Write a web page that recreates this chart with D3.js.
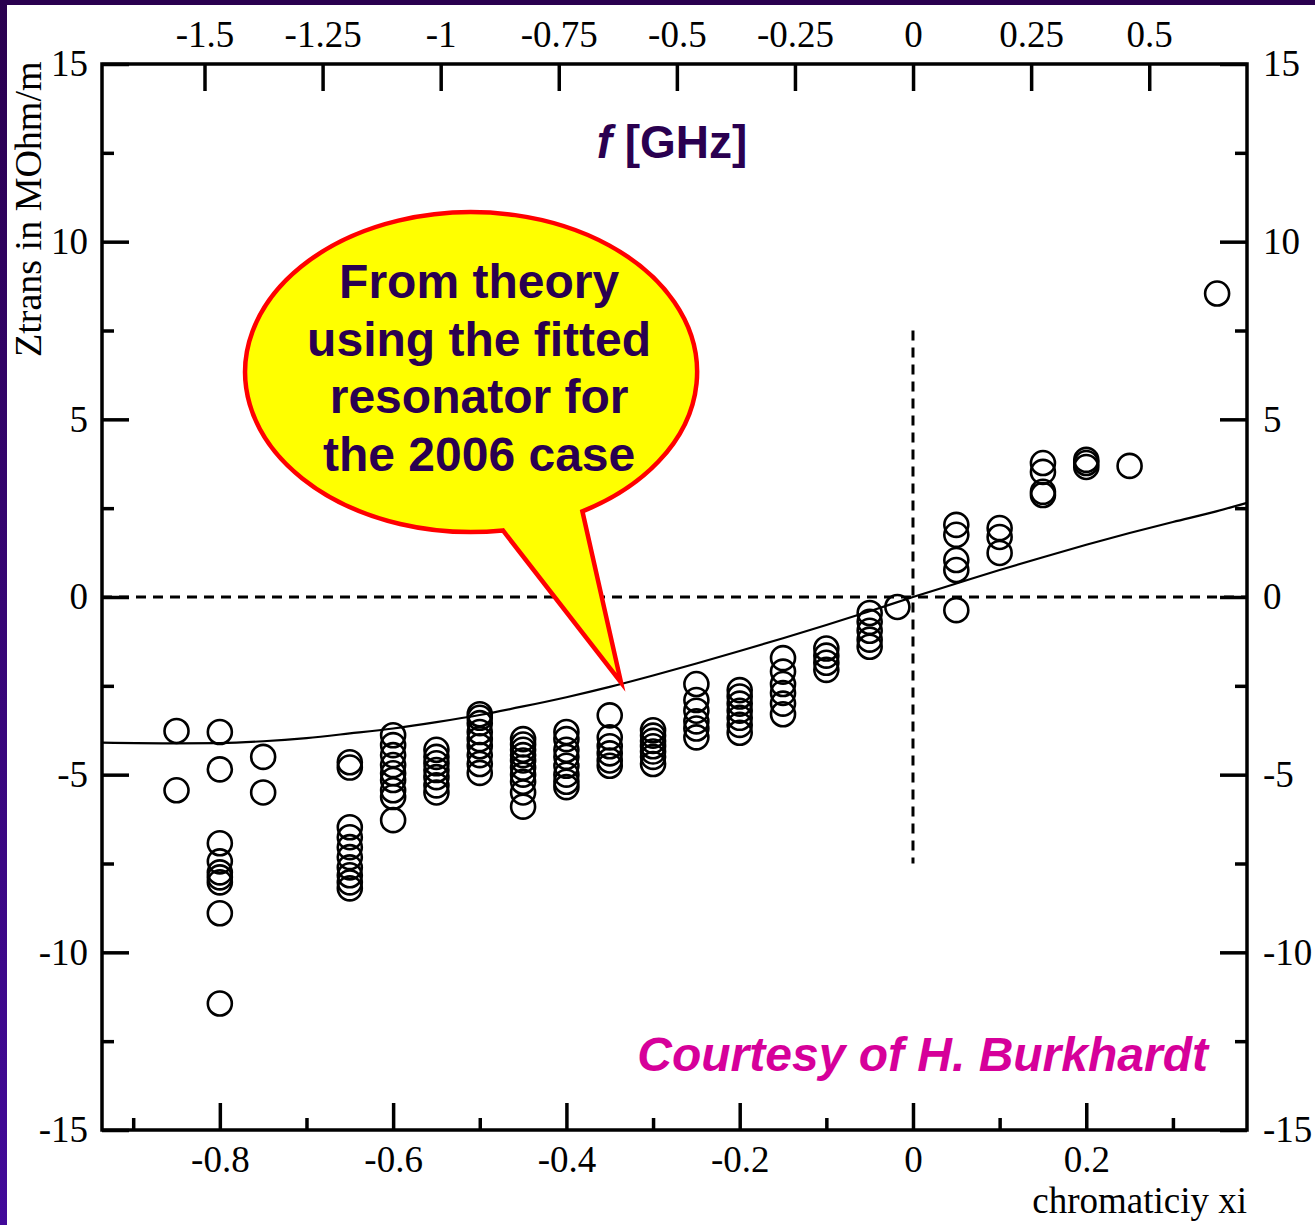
<!DOCTYPE html>
<html>
<head>
<meta charset="utf-8">
<script src="https://cdn.jsdelivr.net/npm/d3@7"></script>
<style>
body{margin:0;background:#fff;}
svg{display:block;}
.tick text{font-family:"Liberation Serif","Times New Roman",serif;font-size:37px;fill:#000;}
</style>
</head>
<body>
<script>
// measured points, grouped by chromaticity column
var columnXi = [-0.85, -0.8, -0.75, -0.65, -0.6, -0.55, -0.5, -0.45, -0.4, -0.35, -0.3,
  -0.25, -0.2, -0.15, -0.1, -0.05, -0.018, 0.05, 0.1, 0.15, 0.2, 0.25, 0.351];
var columnZ = [
  [-3.77, -5.44],
  [-3.8, -4.85, -6.93, -7.44, -7.75, -7.89, -8.03, -8.9, -11.44],
  [-4.5, -5.5],
  [-4.65, -4.8, -6.48, -6.76, -7.04, -7.32, -7.61, -7.83, -8.03, -8.2],
  [-3.89, -4.17, -4.45, -4.73, -4.96, -5.15, -5.44, -5.63, -6.28],
  [-4.3, -4.5, -4.68, -4.87, -5.07, -5.3, -5.5],
  [-3.3, -3.4, -3.55, -3.8, -4.0, -4.2, -4.45, -4.7, -4.95],
  [-4.0, -4.15, -4.3, -4.45, -4.6, -4.8, -5.0, -5.2, -5.5, -5.9],
  [-3.8, -4.0, -4.3, -4.5, -4.75, -5.0, -5.2, -5.35],
  [-3.33, -3.95, -4.2, -4.4, -4.6, -4.75],
  [-3.75, -3.9, -4.05, -4.2, -4.35, -4.5, -4.7],
  [-2.45, -2.9, -3.2, -3.5, -3.7, -3.95],
  [-2.62, -2.8, -3.0, -3.2, -3.4, -3.6, -3.82],
  [-1.72, -2.1, -2.45, -2.7, -3.0, -3.3],
  [-1.45, -1.65, -1.85, -2.05],
  [-0.45, -0.7, -0.95, -1.2, -1.4],
  [-0.28],
  [2.03, 1.75, 1.04, 0.76, -0.37],
  [1.94, 1.69, 1.24],
  [3.77, 3.52, 2.96, 2.87],
  [3.86, 3.77, 3.66],
  [3.69],
  [8.54]
];

// theory curve
var curveXi = [-0.936, -0.85, -0.8, -0.75, -0.7, -0.65, -0.6, -0.55, -0.5, -0.45, -0.4, -0.35,
  -0.3, -0.25, -0.2, -0.15, -0.1, -0.05, 0, 0.05, 0.1, 0.15, 0.2, 0.25, 0.3, 0.35, 0.3855];
var curveZ = [-4.10, -4.12, -4.11, -4.06, -3.97, -3.84, -3.70, -3.52, -3.32, -3.08, -2.82, -2.53,
  -2.21, -1.87, -1.52, -1.16, -0.79, -0.40, 0, 0.38, 0.76, 1.12, 1.47, 1.80, 2.11, 2.41, 2.65];

var topTicks = [-1.5, -1.25, -1, -0.75, -0.5, -0.25, 0, 0.25, 0.5];
var bottomMajor = [-0.8, -0.6, -0.4, -0.2, 0, 0.2];
var bottomMinor = [-0.9, -0.7, -0.5, -0.3, -0.1, 0.1, 0.3];
var sideMajor = [-15, -10, -5, 0, 5, 10, 15];
var sideMinor = [-12.5, -7.5, -2.5, 2.5, 7.5, 12.5];
var calloutLines = ["From theory", "using the fitted", "resonator for", "the 2006 case"];

var W = 1315, H = 1225;
var plotL = 102, plotR = 1247, plotT = 64, plotB = 1130;

var svg = d3.select("body").append("svg")
  .attr("width", W)
  .attr("height", H);

// purple slide border
var grad = svg.append("defs").append("linearGradient")
  .attr("id", "edge").attr("x1", 0).attr("y1", 0).attr("x2", 0).attr("y2", 1);
grad.append("stop").attr("offset", "0%").attr("stop-color", "#2a004f");
grad.append("stop").attr("offset", "100%").attr("stop-color", "#420a9a");
svg.append("rect").attr("x", 0).attr("y", 0).attr("width", W).attr("height", 5).attr("fill", "#2a004f");
svg.append("rect").attr("x", 0).attr("y", 0).attr("width", 7).attr("height", H).attr("fill", "url(#edge)");

var x = d3.scaleLinear().domain([-0.936, 0.3855]).range([plotL, plotR]);
var xf = d3.scaleLinear().domain([-1.717, 0.707]).range([plotL, plotR]);
var y = d3.scaleLinear().domain([-15, 15]).range([plotB, plotT]);

var fmt = function(d){ return String(d); };

function styleAxis(g){
  g.select(".domain").remove();
  g.selectAll(".tick line").attr("stroke", "#000").attr("stroke-width", 3.5);
}

// bottom axis
svg.append("g").attr("transform", "translate(0," + plotB + ")")
  .call(d3.axisBottom(x).tickValues(bottomMajor).tickSize(-27).tickPadding(16).tickFormat(fmt))
  .call(styleAxis);
svg.append("g").attr("transform", "translate(0," + plotB + ")")
  .call(d3.axisBottom(x).tickValues(bottomMinor).tickSize(-12).tickFormat(""))
  .call(styleAxis);

// top axis (frequency)
svg.append("g").attr("transform", "translate(0," + plotT + ")")
  .call(d3.axisTop(xf).tickValues(topTicks).tickSize(-27).tickPadding(17).tickFormat(fmt))
  .call(styleAxis);

// left and right
svg.append("g").attr("transform", "translate(" + plotL + ",0)")
  .call(d3.axisLeft(y).tickValues(sideMajor).tickSize(-27).tickPadding(14).tickFormat(fmt))
  .call(styleAxis);
svg.append("g").attr("transform", "translate(" + plotL + ",0)")
  .call(d3.axisLeft(y).tickValues(sideMinor).tickSize(-12).tickFormat(""))
  .call(styleAxis);
svg.append("g").attr("transform", "translate(" + plotR + ",0)")
  .call(d3.axisRight(y).tickValues(sideMajor).tickSize(-27).tickPadding(16).tickFormat(fmt))
  .call(styleAxis);
svg.append("g").attr("transform", "translate(" + plotR + ",0)")
  .call(d3.axisRight(y).tickValues(sideMinor).tickSize(-12).tickFormat(""))
  .call(styleAxis);

// frame
svg.append("rect")
  .attr("x", plotL).attr("y", plotT)
  .attr("width", plotR - plotL).attr("height", plotB - plotT)
  .attr("fill", "none").attr("stroke", "#000").attr("stroke-width", 3.5);

// axis titles
svg.append("text")
  .attr("x", plotR).attr("y", 1213)
  .attr("text-anchor", "end")
  .style("font-family", "'Liberation Serif','Times New Roman',serif")
  .style("font-size", "37px")
  .text("chromaticiy xi");

svg.append("text")
  .attr("transform", "translate(41,357) rotate(-90)")
  .style("font-family", "'Liberation Serif','Times New Roman',serif")
  .style("font-size", "38px")
  .text("Ztrans in MOhm/m");

var ft = svg.append("text")
  .attr("x", 672).attr("y", 158)
  .attr("text-anchor", "middle")
  .style("font-family", "'Liberation Sans',Arial,sans-serif")
  .style("font-weight", "bold")
  .style("font-size", "46px")
  .attr("fill", "#2a0050");
ft.append("tspan").style("font-style", "italic").text("f");
ft.append("tspan").text(" [GHz]");

// zero lines
svg.append("line")
  .attr("x1", plotL).attr("x2", plotR)
  .attr("y1", y(0)).attr("y2", y(0))
  .attr("stroke", "#000").attr("stroke-width", 3)
  .attr("stroke-dasharray", "10,7");
svg.append("line")
  .attr("x1", x(0)).attr("x2", x(0))
  .attr("y1", y(7.5)).attr("y2", y(-7.5))
  .attr("stroke", "#000").attr("stroke-width", 3)
  .attr("stroke-dasharray", "10,7");

// theory curve
var line = d3.line()
  .x(function(d, i){ return x(curveXi[i]); })
  .y(function(d){ return y(d); })
  .curve(d3.curveMonotoneX);
svg.append("path")
  .datum(curveZ)
  .attr("d", line)
  .attr("fill", "none")
  .attr("stroke", "#000")
  .attr("stroke-width", 2.2);

// measured points
var points = [];
columnXi.forEach(function(xi, i){
  columnZ[i].forEach(function(z){ points.push({xi: xi, z: z}); });
});
svg.selectAll(".pt")
  .data(points)
  .enter()
  .append("circle")
  .attr("class", "pt")
  .attr("cx", function(d){ return x(d.xi); })
  .attr("cy", function(d){ return y(d.z); })
  .attr("r", 12)
  .attr("fill", "none")
  .attr("stroke", "#000")
  .attr("stroke-width", 2.6);

// callout bubble
var cx = x(-0.510), cy = y(6.33), rx = 226, ry = 160;
var tipX = x(-0.337), tipY = y(-2.4);
function onEllipse(deg){
  var t = deg * Math.PI / 180;
  return [cx + rx * Math.cos(t), cy + ry * Math.sin(t)];
}
var p1 = onEllipse(60.5), p2 = onEllipse(81.9);
svg.append("path")
  .attr("d", "M" + p1[0] + "," + p1[1] +
    " A" + rx + "," + ry + " 0 1 0 " + p2[0] + "," + p2[1] +
    " L" + tipX + "," + tipY + " Z")
  .attr("fill", "#ffff00")
  .attr("stroke", "#ff0000")
  .attr("stroke-width", 4.5)
  .attr("stroke-linejoin", "miter")
  .attr("stroke-miterlimit", 30);

svg.append("g").selectAll("text")
  .data(calloutLines)
  .enter()
  .append("text")
  .attr("x", cx + 8)
  .attr("y", function(d, i){ return cy - 74 + i * 57.5; })
  .attr("text-anchor", "middle")
  .style("font-family", "'Liberation Sans',Arial,sans-serif")
  .style("font-weight", "bold")
  .style("font-size", "48px")
  .attr("fill", "#2a0050")
  .text(function(d){ return d; });

svg.append("text")
  .attr("x", 1208).attr("y", 1071)
  .attr("text-anchor", "end")
  .style("font-family", "'Liberation Sans',Arial,sans-serif")
  .style("font-weight", "bold")
  .style("font-style", "italic")
  .style("font-size", "48px")
  .attr("fill", "#d6009a")
  .text("Courtesy of H. Burkhardt");
</script>
</body>
</html>
